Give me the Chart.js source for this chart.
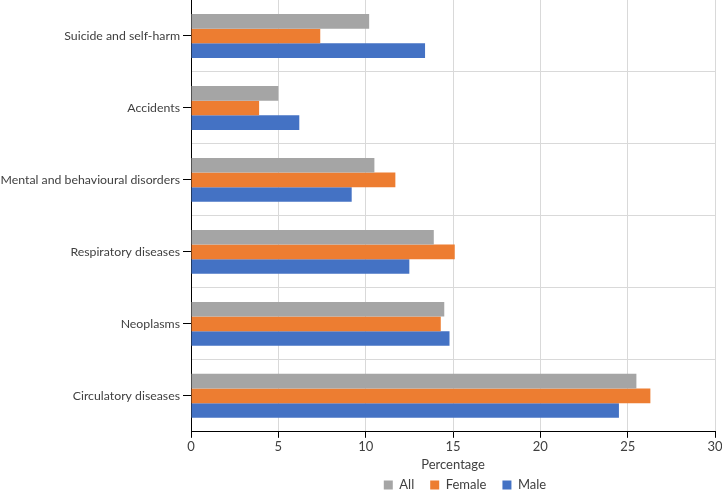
<!DOCTYPE html>
<html>
<head>
<meta charset="utf-8">
<script src="https://cdn.jsdelivr.net/npm/chart.js@4/dist/chart.umd.min.js"></script>
<style>
  html, body { margin: 0; padding: 0; background: #fff; }
  #chart { display: block; }
</style>
</head>
<body>
<canvas id="chart" width="722" height="493"></canvas>
<script>
// Causes of death by sex, percentage
const categories = [
  "Suicide and self-harm",
  "Accidents",
  "Mental and behavioural disorders",
  "Respiratory diseases",
  "Neoplasms",
  "Circulatory diseases"
];
const allValues    = [10.2, 5.0, 10.5, 13.9, 14.5, 25.5];
const femaleValues = [7.4, 3.9, 11.7, 15.1, 14.3, 26.3];
const maleValues   = [13.4, 6.2, 9.2, 12.5, 14.8, 24.5];
const xTickValues  = [0, 5, 10, 15, 20, 25, 30];

const FONT = "Lato, sans-serif";
const TEXT = "#404040";
const GRID = "#d9d9d9";

// push the legend a little right so it sits under the plot, like the original
const shiftLegend = {
  id: "shiftLegend",
  afterLayout(chart) {
    const lg = chart.legend;
    if (!lg) return;
    const center = (chart.chartArea.left + chart.chartArea.right) / 2 + 12;
    lg.left = 2 * center - lg.right;
  }
};

new Chart(document.getElementById("chart"), {
  type: "bar",
  data: {
    labels: categories,
    datasets: [
      { label: "All",    data: allValues,    backgroundColor: "#a5a5a5" },
      { label: "Female", data: femaleValues, backgroundColor: "#ed7d31" },
      { label: "Male",   data: maleValues,   backgroundColor: "#4472c4" }
    ]
  },
  options: {
    indexAxis: "y",
    responsive: false,
    animation: false,
    categoryPercentage: 0.61,
    barPercentage: 1,
    layout: { padding: { top: 0, right: 0, left: 0, bottom: -8.5 } },
    plugins: {
      tooltip: { enabled: false },
      legend: {
        position: "bottom",
        labels: {
          boxWidth: 9,
          boxHeight: 9,
          padding: 16,
          color: TEXT,
          font: { family: FONT, size: 13 }
        }
      }
    },
    scales: {
      x: {
        type: "linear",
        min: 0,
        max: 30,
        afterBuildTicks: s => { s.ticks = xTickValues.map(v => ({ value: v })); },
        afterFit: s => { s.paddingLeft = 0; s.paddingRight = 7; },
        grid: { color: GRID, tickColor: "#000", tickLength: 6 },
        border: { color: "#000" },
        ticks: { color: TEXT, padding: 1, font: { family: FONT, size: 13 } },
        title: {
          display: true,
          text: "Percentage",
          color: TEXT,
          padding: { top: 2, bottom: -10.5 },
          font: { family: FONT, size: 13 }
        }
      },
      // tick marks and labels at category centres
      y: {
        type: "category",
        position: "left",
        offset: true,
        afterFit: s => { s.width = 191; s.paddingTop = 0; s.paddingBottom = 0; },
        grid: { offset: false, drawOnChartArea: false, tickColor: "#000", tickLength: 8 },
        border: { color: "#000" },
        ticks: { color: TEXT, padding: 3, font: { family: FONT, size: 12.3 } }
      },
      // horizontal grid lines between categories
      yGrid: {
        type: "category",
        position: "left",
        offset: true,
        grid: {
          offset: true,
          drawTicks: false,
          color: c => (c.index === 0 ? "rgba(0,0,0,0)" : GRID)
        },
        border: { display: false },
        ticks: { display: false }
      }
    }
  },
  plugins: [shiftLegend]
});
</script>
</body>
</html>
